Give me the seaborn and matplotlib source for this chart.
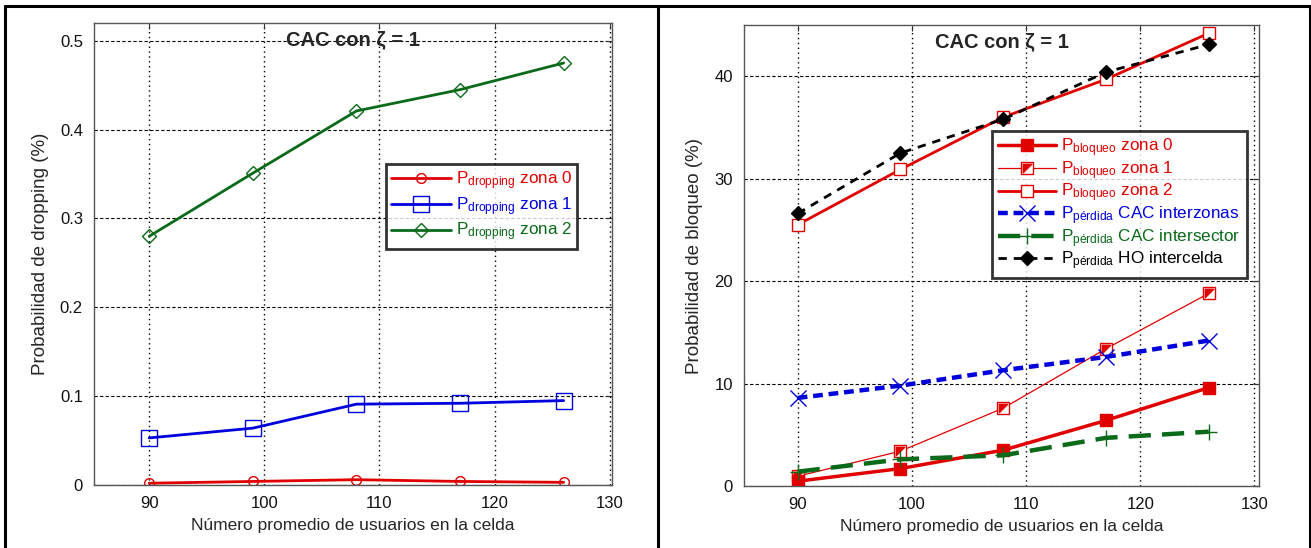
import numpy as np
import pandas as pd
import matplotlib
matplotlib.use("Agg")
import matplotlib.pyplot as plt
from matplotlib.lines import Line2D
from matplotlib.path import Path
from matplotlib.legend_handler import HandlerTuple
import seaborn as sns

# ---------------- data ----------------
usuarios = [90, 99, 108, 117, 126]

drop_zona0 = [0.002, 0.004, 0.006, 0.004, 0.003]
drop_zona1 = [0.053, 0.064, 0.091, 0.092, 0.095]
drop_zona2 = [0.280, 0.351, 0.421, 0.445, 0.475]

bloq_zona0 = [0.47, 1.7, 3.5, 6.4, 9.6]
bloq_zona1 = [0.95, 3.4, 7.6, 13.4, 18.8]
bloq_zona2 = [25.5, 30.9, 36.0, 39.7, 44.2]
perd_interzonas = [8.6, 9.8, 11.3, 12.6, 14.2]
perd_intersector = [1.4, 2.6, 3.0, 4.7, 5.3]
perd_ho = [26.6, 32.5, 35.8, 40.4, 43.1]

titulo = "CAC con ζ = 1"
xlabel = "Número promedio de usuarios en la celda"
ylabel_izq = "Probabilidad de dropping (%)"
ylabel_der = "Probabilidad de bloqueo (%)"
xticks = [90, 100, 110, 120, 130]
yticks_izq = [0, 0.1, 0.2, 0.3, 0.4, 0.5]
ytick_labels_izq = ["0", "0.1", "0.2", "0.3", "0.4", "0.5"]
yticks_der = [0, 10, 20, 30, 40]

leg_izq = [r"P$_{\mathrm{dropping}}$ zona 0",
           r"P$_{\mathrm{dropping}}$ zona 1",
           r"P$_{\mathrm{dropping}}$ zona 2"]
leg_der = [r"P$_{\mathrm{bloqueo}}$ zona 0",
           r"P$_{\mathrm{bloqueo}}$ zona 1",
           r"P$_{\mathrm{bloqueo}}$ zona 2",
           r"P$_{\mathrm{pérdida}}$ CAC interzonas",
           r"P$_{\mathrm{pérdida}}$ CAC intersector",
           r"P$_{\mathrm{pérdida}}$ HO intercelda"]

RED = "#e00000"
BLUE = "#0000dd"
GREEN = "#0a6a1a"
BLACK = "#000000"

# ---------------- style ----------------
sns.set_theme(style="white")
plt.rcParams["font.family"] = ["Liberation Sans", "DejaVu Sans"]
plt.rcParams["mathtext.fontset"] = "custom"
plt.rcParams["mathtext.rm"] = "Liberation Sans"
plt.rcParams["mathtext.it"] = "Liberation Sans:italic"
plt.rcParams["mathtext.bf"] = "Liberation Sans:bold"

fig = plt.figure(figsize=(13.11, 5.48), dpi=100)
W, H = 1311, 548

def fig_axes(x0, x1, ytop, ybot):
    return fig.add_axes([x0 / W, (H - ybot) / H, (x1 - x0) / W, (ybot - ytop) / H])

axL = fig_axes(94, 612, 23, 485)
axR = fig_axes(744, 1259, 25, 486)

def style_axes(ax):
    for s in ax.spines.values():
        s.set_color("#555555")
        s.set_linewidth(1.0)
    ax.set_xticks(xticks)
    ax.tick_params(axis="both", direction="in", length=4, width=0.8, colors="#333333",
                   labelsize=12, labelcolor="#111111", top=True, right=True, pad=8)
    ax.xaxis.grid(True, color="black", linestyle=(0, (1, 2.5)), linewidth=1.0)
    ax.yaxis.grid(True, color="black", linestyle=(0, (3, 2)), linewidth=0.8)
    ax.set_axisbelow(True)
    ax.set_xlabel(xlabel, fontsize=12.5, labelpad=5)
    ax.text(0.5, 0.985, titulo, transform=ax.transAxes, ha="center", va="top",
            fontsize=14.5, fontweight="bold")

# ---------------- left panel ----------------
dfL = pd.DataFrame({"x": usuarios, "z0": drop_zona0, "z1": drop_zona1, "z2": drop_zona2})
sns.lineplot(data=dfL, x="x", y="z0", ax=axL, color=RED, lw=2, marker="o", ms=7,
             mfc="none", mec=RED, mew=1.0)
sns.lineplot(data=dfL, x="x", y="z1", ax=axL, color=BLUE, lw=2, marker="s", ms=11,
             mfc="none", mec=BLUE, mew=1.0)
sns.lineplot(data=dfL, x="x", y="z2", ax=axL, color=GREEN, lw=2, marker="D", ms=7,
             mfc="none", mec=GREEN, mew=1.0)
axL.set_xlim(85.2, 130.2)
axL.set_ylim(0, 0.52)
axL.set_yticks(yticks_izq)
axL.set_yticklabels(ytick_labels_izq)
axL.set_ylabel(ylabel_izq, fontsize=13.5, labelpad=8)
style_axes(axL)

hL = [Line2D([], [], color=RED, lw=2, marker="o", ms=7, mfc="none", mec=RED),
      Line2D([], [], color=BLUE, lw=2, marker="s", ms=11, mfc="none", mec=BLUE),
      Line2D([], [], color=GREEN, lw=2, marker="D", ms=7, mfc="none", mec=GREEN)]
legL = axL.legend(hL, leg_izq, loc="upper left", bbox_to_anchor=(0.563, 0.694),
                  fontsize=12.3, frameon=True, fancybox=False, handlelength=3.5,
                  borderpad=0.3, labelspacing=0.18, handletextpad=0.3, borderaxespad=0)
legL.get_frame().set_edgecolor("black")
legL.get_frame().set_linewidth(2)
for t, c in zip(legL.get_texts(), [RED, BLUE, GREEN]):
    t.set_color(c)

# ---------------- right panel ----------------
tri = Path([(-1, 1), (1, 1), (-1, -1), (-1, 1)], [Path.MOVETO, Path.LINETO, Path.LINETO, Path.CLOSEPOLY])
dfR = pd.DataFrame({"x": usuarios, "b0": bloq_zona0, "b1": bloq_zona1, "b2": bloq_zona2,
                    "pi": perd_interzonas, "ps": perd_intersector, "ph": perd_ho})
sns.lineplot(data=dfR, x="x", y="b2", ax=axR, color=RED, lw=2, marker="s", ms=8,
             mfc="white", mec=RED, mew=1.0)
sns.lineplot(data=dfR, x="x", y="b1", ax=axR, color=RED, lw=0.9, marker="s", ms=8,
             mfc="white", mec=RED, mew=1.0)
axR.plot(usuarios, bloq_zona1, ls="none", marker=tri, ms=6, color=RED, mec=RED)
sns.lineplot(data=dfR, x="x", y="b0", ax=axR, color=RED, lw=2.5, marker="s", ms=8,
             mfc=RED, mec=RED, mew=1.0)
sns.lineplot(data=dfR, x="x", y="pi", ax=axR, color=BLUE, lw=3.2, ls=(0, (2.2, 1.3)),
             marker="x", ms=11, mec=BLUE, mew=1.0)
sns.lineplot(data=dfR, x="x", y="ps", ax=axR, color=GREEN, lw=3.2, ls=(0, (5, 2.5)),
             marker="+", ms=12, mec=GREEN, mew=1.0)
sns.lineplot(data=dfR, x="x", y="ph", ax=axR, color=BLACK, lw=2, ls=(0, (3, 2.5)),
             marker="D", ms=7, mfc=BLACK, mec=BLACK, mew=1.0)
axR.set_xlim(85.3, 130.4)
axR.set_ylim(0, 45)
axR.set_yticks(yticks_der)
axR.set_ylabel(ylabel_der, fontsize=13.5, labelpad=8)
style_axes(axR)

h0 = Line2D([], [], color=RED, lw=2.5, marker="s", ms=8, mfc=RED, mec=RED)
h1a = Line2D([], [], color=RED, lw=0.9, marker="s", ms=8, mfc="white", mec=RED)
h1b = Line2D([], [], ls="none", marker=tri, ms=6, color=RED)
h2 = Line2D([], [], color=RED, lw=2, marker="s", ms=8, mfc="white", mec=RED)
h3 = Line2D([], [], color=BLUE, lw=3.2, ls=(0, (2.2, 1.3)), marker="x", ms=11, mec=BLUE)
h4 = Line2D([], [], color=GREEN, lw=3.2, ls=(0, (5, 2.5)), marker="+", ms=12, mec=GREEN)
h5 = Line2D([], [], color=BLACK, lw=2, ls=(0, (3, 2.5)), marker="D", ms=7, mfc=BLACK, mec=BLACK)
legR = axR.legend([h0, (h1a, h1b), h2, h3, h4, h5], leg_der, loc="upper left",
                  bbox_to_anchor=(0.482, 0.771), fontsize=12.3, frameon=True, fancybox=False,
                  handlelength=3.4, borderpad=0.35, labelspacing=0.0, handletextpad=0.3,
                  borderaxespad=0, handler_map={tuple: HandlerTuple(ndivide=1, pad=0)})
legR.get_frame().set_edgecolor("black")
legR.get_frame().set_linewidth(2)
for t, c in zip(legR.get_texts(), [RED, RED, RED, BLUE, GREEN, BLACK]):
    t.set_color(c)

# ---------------- outer panel frames ----------------
def fig_line(xs, ys):
    fig.add_artist(Line2D([x / W for x in xs], [(H - y) / H for y in ys],
                          color="black", lw=2.2, transform=fig.transFigure))

fig_line([5, 1310], [6, 6])
fig_line([5, 5], [6, 548])
fig_line([658, 658], [6, 548])
fig_line([1310, 1310], [6, 548])

fig.savefig("out.png", dpi=100)
